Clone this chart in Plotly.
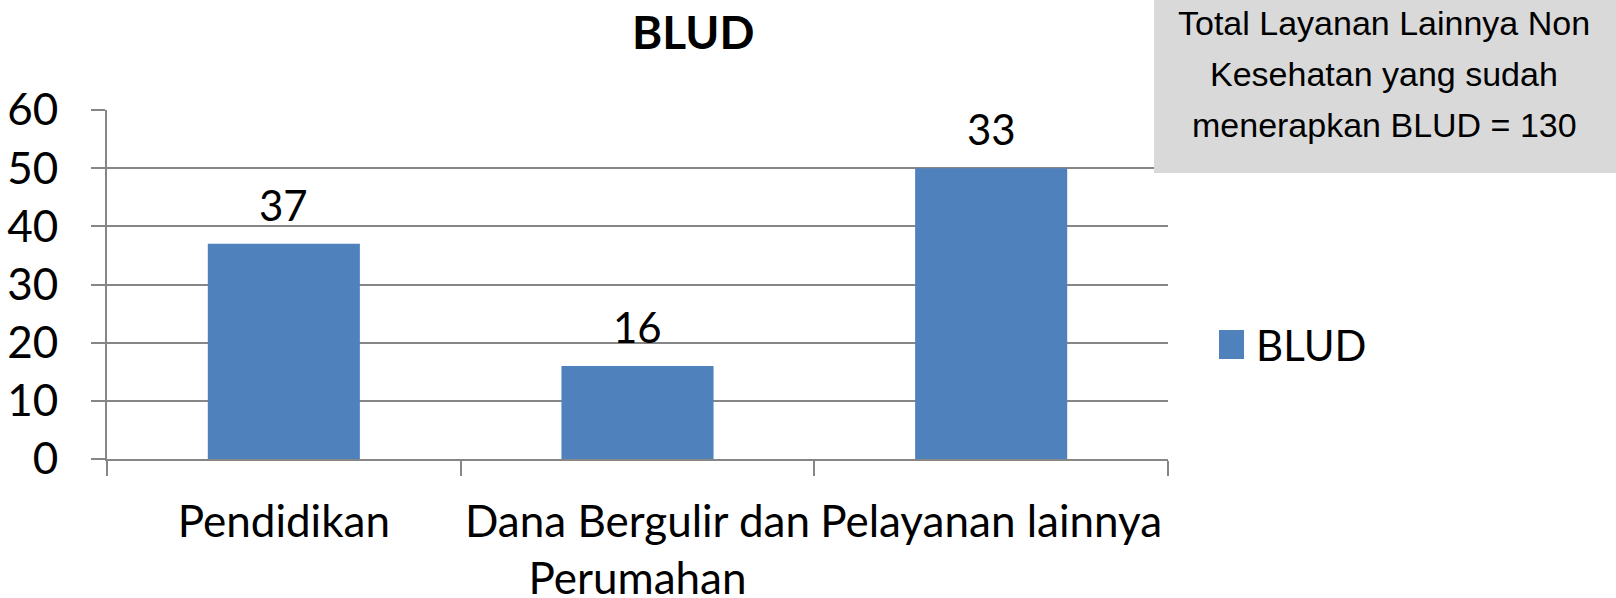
import plotly.graph_objects as go

categories = ["Pendidikan", "Dana Bergulir dan<br>Perumahan", "Pelayanan lainnya"]
bar_values = [37, 16, 50]
bar_labels = ["37", "16", "33"]
series_name = "BLUD"
y_ticks = [0, 10, 20, 30, 40, 50, 60]
title_text = "BLUD"
note_lines = ["Total Layanan Lainnya Non", "Kesehatan yang sudah", "menerapkan BLUD = 130"]

W, H = 1616, 598
L, R, T, B = 107, 448, 110, 139
pw, ph = W - L - R, H - T - B

def px(x):
    return (x - L) / pw

def py(y):
    return (H - B - y) / ph

FONT = "Lato, Calibri, Carlito, sans-serif"
GRID = "#868686"
BAR_COLOR = "#4f81bd"

fig = go.Figure()
fig.add_trace(go.Bar(
    x=categories, y=bar_values, name=series_name,
    marker=dict(color=BAR_COLOR, line=dict(width=0)),
    width=0.43, showlegend=False, hoverinfo="skip",
))

for c, v, t in zip(categories, bar_values, bar_labels):
    fig.add_annotation(x=c, y=v, xref="x", yref="y", text=t, showarrow=False,
                       yanchor="middle", yshift=39,
                       font=dict(family=FONT, size=42, color="black"))

# title
fig.add_annotation(x=px(693), y=py(31), xref="paper", yref="paper", text="<b>" + title_text + "</b>",
                   showarrow=False, xanchor="center", yanchor="middle",
                   font=dict(family=FONT, size=46, color="black"))

# legend (drawn manually to get the large square key)
fig.add_shape(type="rect", xref="paper", yref="paper",
              x0=px(1219), x1=px(1244), y0=py(359), y1=py(330),
              fillcolor=BAR_COLOR, line=dict(width=0))
fig.add_annotation(x=px(1254), y=py(345), xref="paper", yref="paper", text=series_name,
                   showarrow=False, xanchor="left", yanchor="middle",
                   font=dict(family=FONT, size=42, color="black"))

# grey note box
fig.add_shape(type="rect", xref="paper", yref="paper",
              x0=px(1154), x1=px(1616), y0=py(173), y1=py(0),
              fillcolor="#d9d9d9", line=dict(width=0), layer="above")
for i, line in enumerate(note_lines):
    fig.add_annotation(x=px(1384), y=py(23 + 51 * i), xref="paper", yref="paper", text=line,
                       showarrow=False, xanchor="center", yanchor="middle", align="center",
                       font=dict(family="Liberation Sans, Arial, sans-serif", size=34, color="black"))

fig.update_layout(
    width=W, height=H,
    margin=dict(l=L, r=R, t=T, b=B, pad=0, autoexpand=False),
    paper_bgcolor="white", plot_bgcolor="white",
    bargap=0.57,
    showlegend=False,
    hovermode=False,
    font=dict(family=FONT, size=42, color="black"),
    xaxis=dict(
        type="category", showgrid=False, showline=True, linecolor=GRID, linewidth=2,
        ticks="outside", tickson="boundaries", ticklen=15, tickcolor=GRID, tickwidth=2,
        ticklabelstandoff=23, tickangle=0, tickfont=dict(family=FONT, size=44, color="black"),
        range=[-0.5, 2.5], automargin=False,
    ),
    yaxis=dict(
        range=[0, 60], tickvals=y_ticks, showgrid=True, gridcolor=GRID, gridwidth=2,
        showline=True, linecolor=GRID, linewidth=2, zeroline=False,
        ticks="outside", ticklen=14, tickcolor=GRID, tickwidth=2,
        ticklabelstandoff=24, tickfont=dict(family=FONT, size=44, color="black"),
        automargin=False,
    ),
)

fig.write_html("out.html", config={"displayModeBar": False, "staticPlot": True},
               post_script="document.body.style.margin='0';document.body.style.overflow='hidden';")
